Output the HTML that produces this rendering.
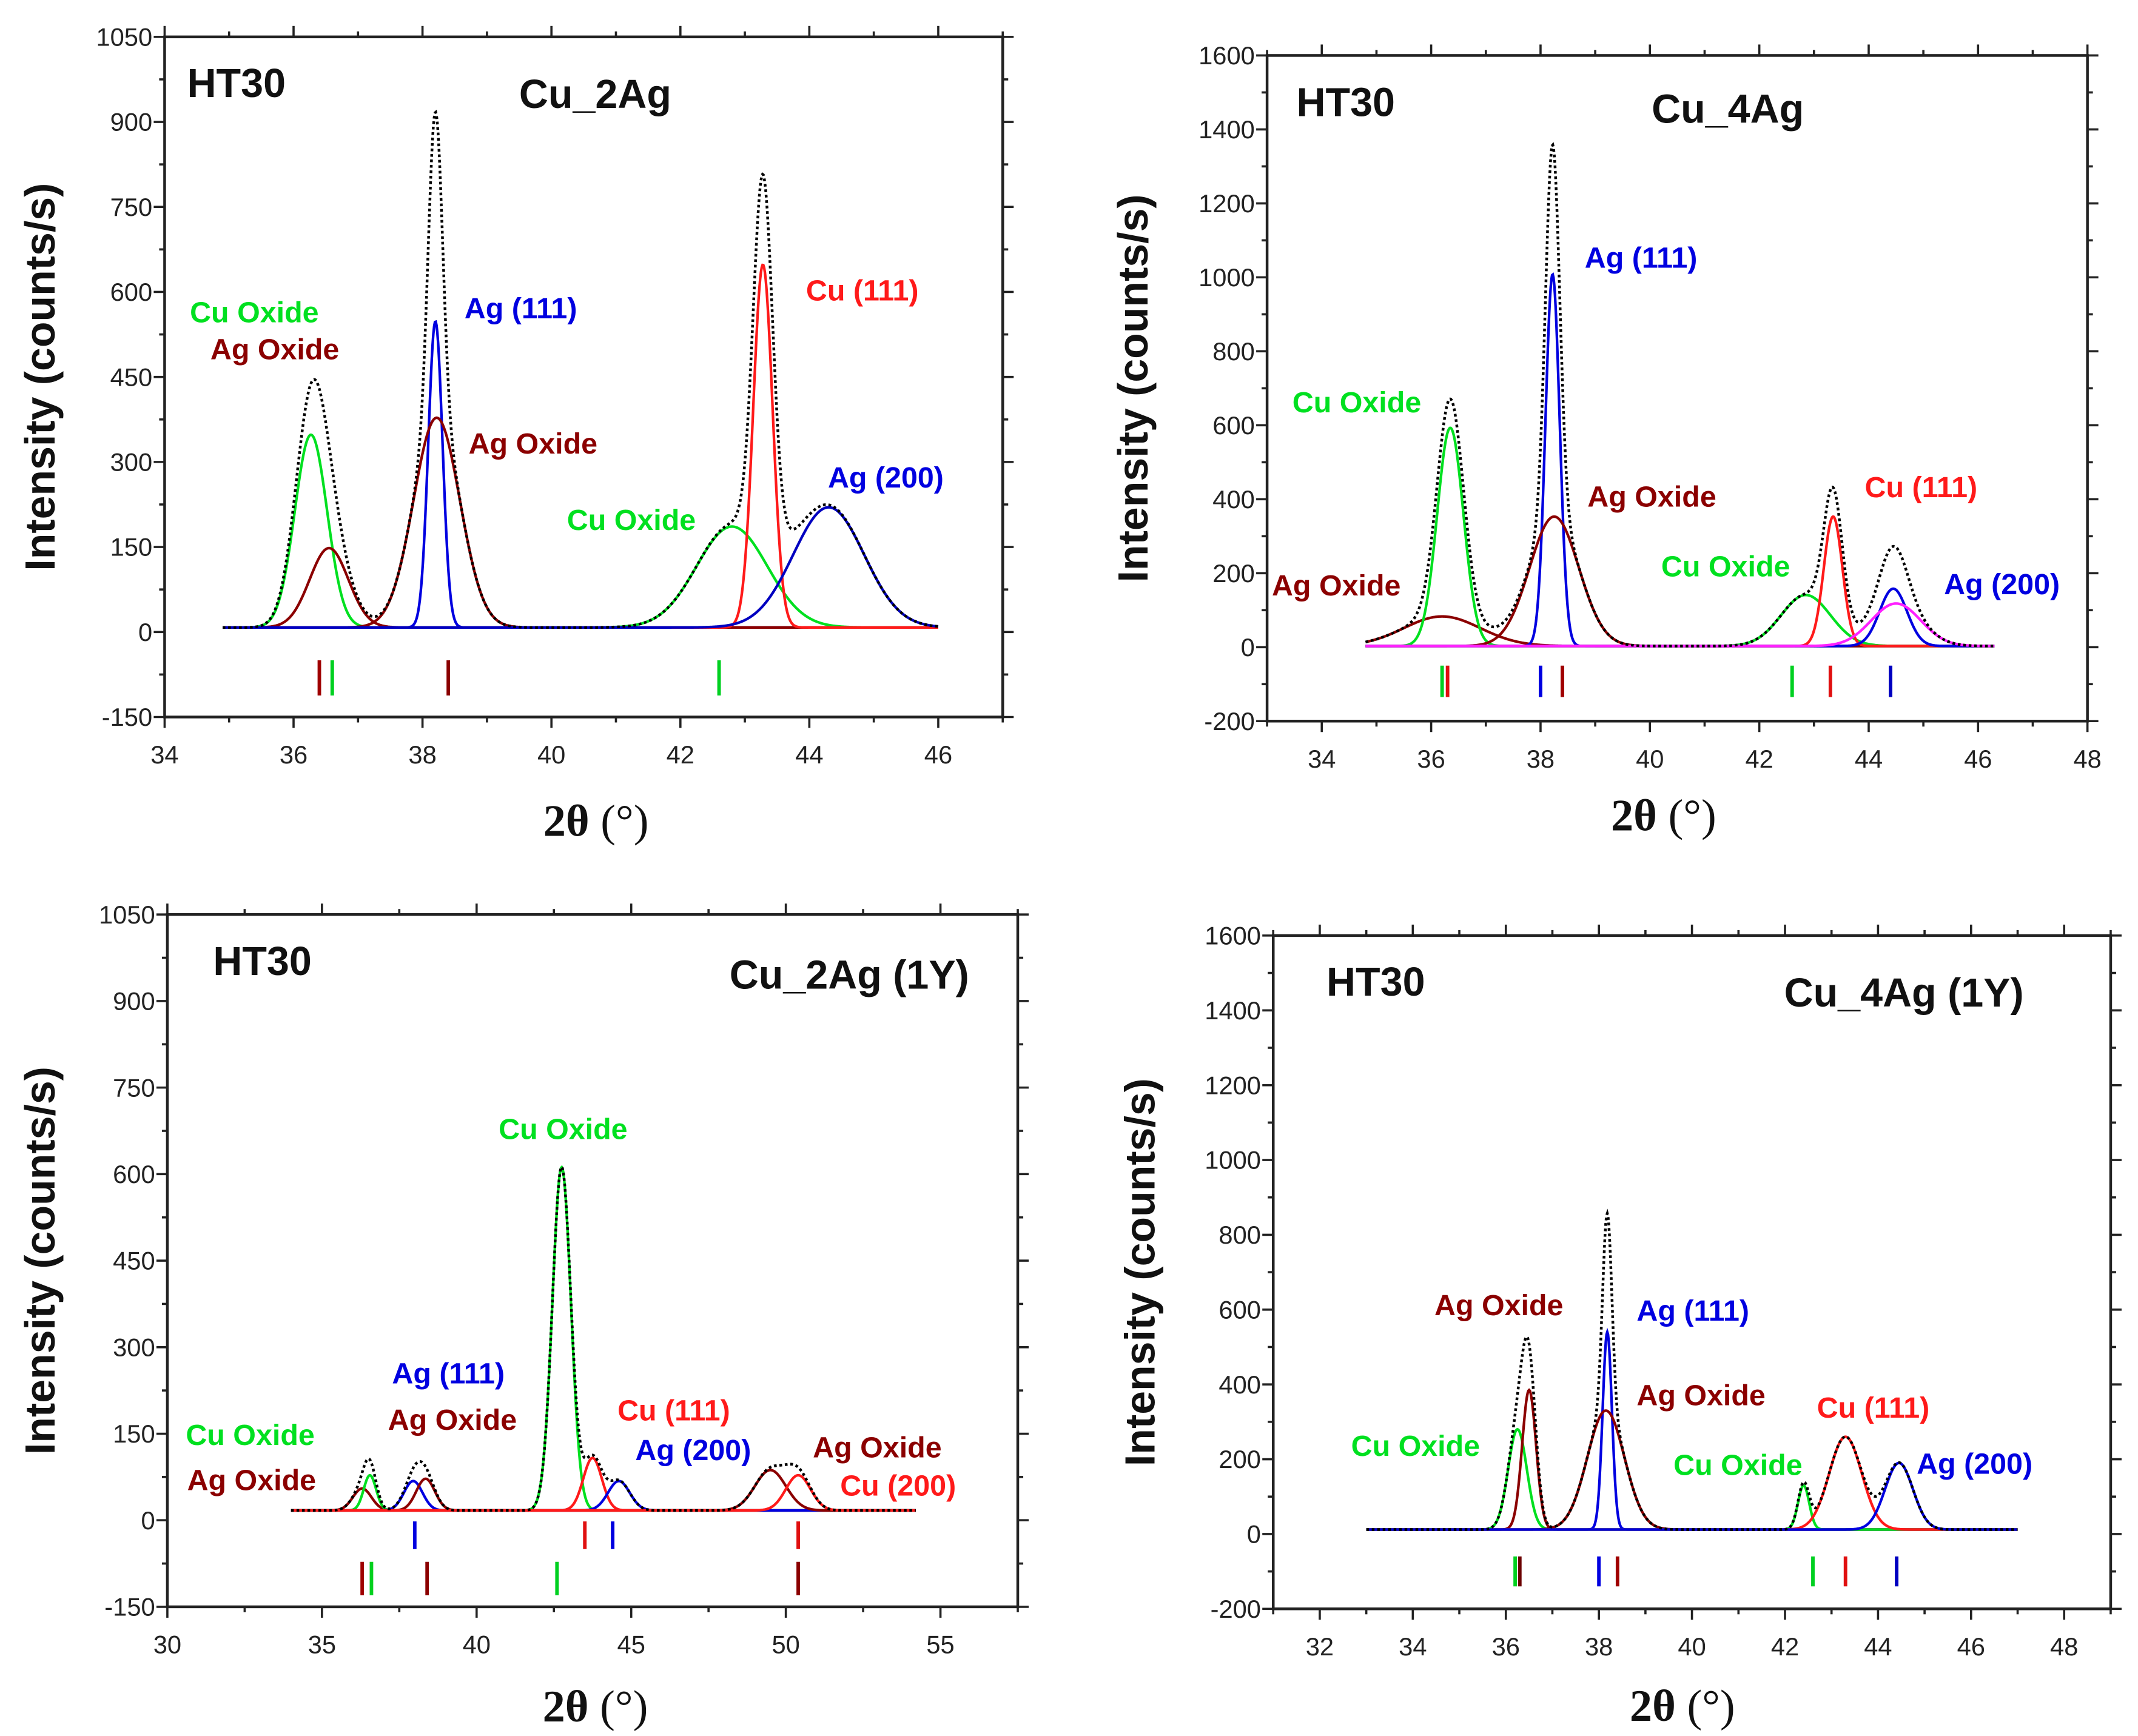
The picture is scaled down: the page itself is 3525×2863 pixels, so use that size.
<!DOCTYPE html>
<html><head><meta charset="utf-8"><title>XRD panels</title>
<style>
html,body{margin:0;padding:0;background:#fff;}
svg{display:block;}
text{font-family:"Liberation Sans",sans-serif;}
.tick{font-size:18.5px;fill:#222;}
.lab{font-size:21.5px;font-weight:bold;}
.ttl{font-size:29.5px;font-weight:bold;fill:#111;}
.ytitle{font-size:31px;font-weight:bold;fill:#111;}
.xtitle{font-family:"Liberation Serif",serif;font-size:33px;fill:#111;}
</style></head>
<body>
<svg id="fig" width="3525" height="2863" viewBox="0 0 1565 1271.1" xmlns="http://www.w3.org/2000/svg">
<rect x="0" y="0" width="1565" height="1272" fill="#fff"/>
</svg>
<script>
// ===== Panel 1: Cu_2Ag =====
const p1XTicks=[34,36,38,40,42,44,46];
const p1YTicks=[-150,0,150,300,450,600,750,900,1050];
const p1Centers=[36.27,36.55,38.2,38.22,42.8,43.28,44.3];
const p1Heights=[340,140,540,370,178,640,212];
const p1Widths=[0.25,0.3,0.11,0.36,0.55,0.15,0.55];
const p1Colors=['#00e020','#8b0000','#0000e0','#8b0000','#00e020','#ff1a1a','#0000c0'];
const p1Baseline=8;
const p1MarkPos=[36.4,36.6,38.4,42.6];
const p1MarkColors=['#a00000','#00d020','#8b0000','#00d020'];
// ===== Panel 2: Cu_4Ag =====
const p2XTicks=[34,36,38,40,42,44,46,48];
const p2YTicks=[-200,0,200,400,600,800,1000,1200,1400,1600];
const p2Centers=[36.2,36.35,38.22,38.25,42.85,43.35,44.45,44.5];
const p2Heights=[80,590,1005,350,138,350,155,115];
const p2Widths=[0.7,0.24,0.13,0.45,0.45,0.17,0.25,0.45];
const p2Colors=['#8b0000','#00e020','#0000e0','#8b0000','#00e020','#ff1a1a','#0000e0','#ff20ff'];
const p2Baseline=3;
const p2MarkPos=[36.2,36.3,38.0,38.4,42.6,43.3,44.4];
const p2MarkColors=['#00d020','#e01010','#0000e0','#a00000','#00d020','#e01010','#0000c0'];
// ===== Panel 3: Cu_2Ag (1Y) =====
const p3XTicks=[30,35,40,45,50,55];
const p3YTicks=[-150,0,150,300,450,600,750,900,1050];
const p3Centers=[36.3,36.55,37.95,38.35,42.75,43.75,44.6,49.5,50.4];
const p3Heights=[38,61,51,55,595,91,51,70,61];
const p3Widths=[0.3,0.2,0.3,0.3,0.3,0.3,0.35,0.5,0.4];
const p3Colors=['#8b0000','#00e020','#0000e0','#8b0000','#00e020','#ff1a1a','#0000e0','#8b0000','#ff1a1a'];
const p3Baseline=17;
const p3MarkPos=[38.0,43.5,44.4,50.4,36.3,36.6,38.4,42.6,50.4];
const p3MarkRow=[0,0,0,0,1,1,1,1,1];
const p3MarkColors=['#0000e0','#e01010','#0000e0','#e01010','#a00000','#00d020','#8b0000','#00d020','#8b0000'];
// ===== Panel 4: Cu_4Ag (1Y) =====
const p4XTicks=[32,34,36,38,40,42,44,46,48];
const p4YTicks=[-200,0,200,400,600,800,1000,1200,1400,1600];
const p4Centers=[36.25,36.5,38.18,38.15,42.4,43.3,44.45];
const p4Heights=[268,373,528,318,118,248,178];
const p4Widths=[0.2,0.15,0.1,0.4,0.12,0.35,0.3];
const p4Colors=['#00e020','#8b0000','#0000e0','#8b0000','#00e020','#ff1a1a','#0000e0'];
const p4Baseline=12;
const p4MarkPos=[36.2,36.3,38.0,38.4,42.6,43.3,44.4];
const p4MarkColors=['#00d020','#6b0000','#0000e0','#a00000','#00d020','#e01010','#0000c0'];

const NS='http://www.w3.org/2000/svg';
const svg=document.getElementById('fig');
function mk(tag,attrs,parent){const e=document.createElementNS(NS,tag);for(const k in attrs)e.setAttribute(k,attrs[k]);parent.appendChild(e);return e;}

function drawPanel(P){
  const g=mk('g',{},svg);
  
  
  const sx=v=>P.L+(v-P.xmin)/(P.xmax-P.xmin)*(P.R-P.L);
  const sy=v=>P.B-(v-P.ymin)/(P.ymax-P.ymin)*(P.B-P.T);
  const N=900;
  const xs=[];for(let i=0;i<=N;i++)xs.push(P.xs+(P.xe-P.xs)*i/N);
  const comp=(i,x)=>P.h[i]*Math.exp(-Math.pow(x-P.c[i],2)/(2*P.w[i]*P.w[i]));
  for(let i=0;i<P.c.length;i++){
    const d=xs.map((x,k)=>(k?'L':'M')+sx(x).toFixed(2)+' '+sy(P.base+comp(i,x)).toFixed(2)).join('');
    const p=mk('path',{d:d,fill:'none',stroke:P.col[i],'stroke-width':1.9},g);
    
    
  }
  const ds=xs.map((x,k)=>{let s=P.base;for(let i=0;i<P.c.length;i++)s+=comp(i,x);return (k?'L':'M')+sx(x).toFixed(2)+' '+sy(s).toFixed(2);}).join('');
  const sp=mk('path',{d:ds,fill:'none',stroke:'#000','stroke-width':2,'stroke-dasharray':'2 2'},g);
  
  
  for(let i=0;i<P.mp.length;i++){
    const r=P.mrow?P.mrow[i]:0;
    const yr=P.mY[r];
    const m=mk('line',{x1:sx(P.mp[i]),x2:sx(P.mp[i]),y1:sy(yr[0]),y2:sy(yr[1]),stroke:P.mc[i],'stroke-width':2.6},g);
    
    
  }
  const fr=mk('rect',{x:P.L,y:P.T,width:P.R-P.L,height:P.B-P.T,fill:'none',stroke:'#222','stroke-width':2},g);
  
  
  const xt=P.xt;const xstep=xt[1]-xt[0];
  for(let v=xt[0]-xstep;v<=P.xmax+1e-6;v+=xstep/2){
    if(v<P.xmin-1e-6)continue;
    const major=xt.indexOf(Math.round(v*100)/100)>=0;
    const len=major?8:4;const X=sx(v);
    mk('line',{x1:X,x2:X,y1:P.B,y2:P.B+len,stroke:'#222','stroke-width':1.6},g);
    mk('line',{x1:X,x2:X,y1:P.T,y2:P.T-len,stroke:'#222','stroke-width':1.6},g);
  }
  xt.forEach(v=>{
    const t=mk('text',{x:sx(v),y:P.B+34,'text-anchor':'middle',class:'tick'},g);
    t.textContent=v;
    
    
  });
  const yt=P.yt;const ystep=yt[1]-yt[0];
  for(let v=P.ymin;v<=P.ymax+1e-6;v+=ystep/2){
    const major=yt.indexOf(v)>=0;const len=major?8:4;const Y=sy(v);
    mk('line',{x1:P.L-len,x2:P.L,y1:Y,y2:Y,stroke:'#222','stroke-width':1.6},g);
    mk('line',{x1:P.R,x2:P.R+len,y1:Y,y2:Y,stroke:'#222','stroke-width':1.6},g);
  }
  yt.forEach(v=>{
    const t=mk('text',{x:P.L-9,y:sy(v)+6.5,'text-anchor':'end',class:'tick'},g);
    t.textContent=v;
    
    
  });
  const yT=mk('text',{x:0,y:0,'text-anchor':'middle',class:'ytitle',transform:'translate('+P.ytx+','+((P.T+P.B)/2)+') rotate(-90)'},g);
  yT.textContent='Intensity (counts/s)';
  
  
  const xT=mk('text',{x:(P.L+P.R)/2+P.xtdx,y:P.B+P.xty,'text-anchor':'middle',class:'xtitle'},g);
  xT.innerHTML='<tspan font-weight="bold">2θ</tspan> (°)';
  
  
  P.labels.forEach(l=>{
    const t=mk('text',{x:l[1],y:l[2],fill:l[3],class:l[4]||'lab'},g);
    t.textContent=l[0];
    
    
  });
}

drawPanel({name:'panel-cu-2ag',L:120.5,R:734,T:27,B:525,xmin:34,xmax:47,ymin:-150,ymax:1050,
  xt:p1XTicks,yt:p1YTicks,c:p1Centers,h:p1Heights,w:p1Widths,col:p1Colors,base:p1Baseline,xs:34.9,xe:46,
  mp:p1MarkPos,mc:p1MarkColors,mY:[[-50,-112]],ytx:40,xty:87,xtdx:9,
  labels:[['HT30',137,71,'#111','ttl'],['Cu_2Ag',380,79,'#111','ttl'],['Cu Oxide',139,236,'#00e020'],['Ag Oxide',154,263,'#8b0000'],
   ['Ag (111)',340,233,'#0000e0'],['Ag Oxide',343,332,'#8b0000'],['Cu (111)',590,220,'#ff1a1a'],['Ag (200)',606,357,'#0000e0'],['Cu Oxide',415,388,'#00e020']]});

drawPanel({name:'panel-cu-4ag',L:927.5,R:1528,T:40.6,B:528,xmin:33,xmax:48,ymin:-200,ymax:1600,
  xt:p2XTicks,yt:p2YTicks,c:p2Centers,h:p2Heights,w:p2Widths,col:p2Colors,base:p2Baseline,xs:34.8,xe:46.3,
  mp:p2MarkPos,mc:p2MarkColors,mY:[[-50,-135]],ytx:840,xty:80,xtdx:-10,
  labels:[['HT30',949,85,'#111','ttl'],['Cu_4Ag',1209,90,'#111','ttl'],['Ag (111)',1160,196,'#0000e0'],['Cu Oxide',946,302,'#00e020'],
   ['Ag Oxide',1162,371,'#8b0000'],['Ag Oxide',931,436,'#8b0000'],['Cu Oxide',1216,422,'#00e020'],['Cu (111)',1365,364,'#ff1a1a'],['Ag (200)',1423,435,'#0000e0']]});

drawPanel({name:'panel-cu-2ag-1y',L:122.5,R:745,T:669.6,B:1176.5,xmin:30,xmax:57.5,ymin:-150,ymax:1050,
  xt:p3XTicks,yt:p3YTicks,c:p3Centers,h:p3Heights,w:p3Widths,col:p3Colors,base:p3Baseline,xs:34,xe:54.2,
  mp:p3MarkPos,mc:p3MarkColors,mrow:p3MarkRow,mY:[[-2,-50],[-72,-130]],ytx:40,xty:84,xtdx:2,
  labels:[['HT30',156,714,'#111','ttl'],['Cu_2Ag (1Y)',534,724,'#111','ttl'],['Cu Oxide',365,834,'#00e020'],['Ag (111)',287,1013,'#0000e0'],
   ['Ag Oxide',284,1047,'#8b0000'],['Cu (111)',452,1040,'#ff1a1a'],['Ag (200)',465,1069,'#0000e0'],['Cu Oxide',136,1058,'#00e020'],
   ['Ag Oxide',137,1091,'#8b0000'],['Ag Oxide',595,1067,'#8b0000'],['Cu (200)',615,1095,'#ff1a1a']]});

drawPanel({name:'panel-cu-4ag-1y',L:932,R:1545,T:685,B:1178,xmin:31,xmax:49,ymin:-200,ymax:1600,
  xt:p4XTicks,yt:p4YTicks,c:p4Centers,h:p4Heights,w:p4Widths,col:p4Colors,base:p4Baseline,xs:33,xe:47,
  mp:p4MarkPos,mc:p4MarkColors,mY:[[-60,-140]],ytx:845,xty:82,xtdx:-7,
  labels:[['HT30',971,729,'#111','ttl'],['Cu_4Ag (1Y)',1306,737,'#111','ttl'],['Ag Oxide',1050,963,'#8b0000'],['Ag (111)',1198,967,'#0000e0'],
   ['Ag Oxide',1198,1029,'#8b0000'],['Cu (111)',1330,1038,'#ff1a1a'],['Cu Oxide',989,1066,'#00e020'],['Cu Oxide',1225,1080,'#00e020'],['Ag (200)',1403,1079,'#0000e0']]});
</script>
</body></html>
